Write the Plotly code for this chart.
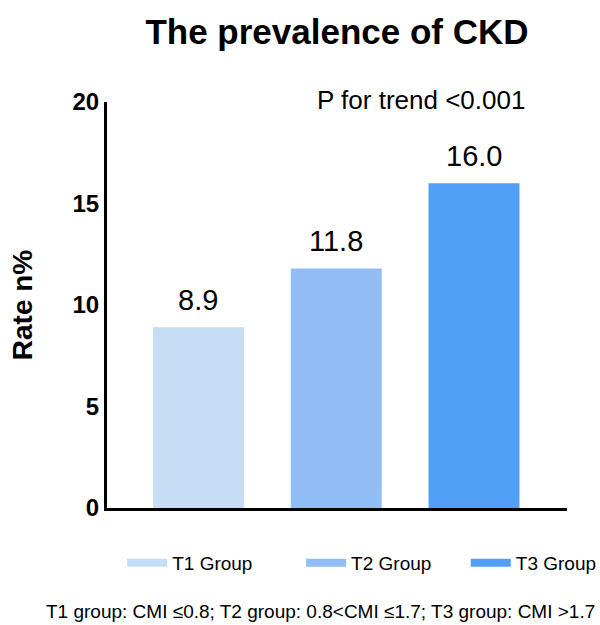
import plotly.graph_objects as go

groups = ["T1 Group", "T2 Group", "T3 Group"]
rates = [8.9, 11.8, 16.0]
colors = ["#c6ddf6", "#90bdf5", "#529ff8"]
yticks = [0, 5, 10, 15, 20]
title_text = "The prevalence of CKD"
ptrend_text = "P for trend <0.001"
footnote_text = "T1 group: CMI ≤0.8; T2 group: 0.8<CMI ≤1.7; T3 group: CMI >1.7"

FONT = "Arial, 'Liberation Sans', sans-serif"

fig = go.Figure()
xs = list(range(len(groups)))
fig.add_trace(go.Bar(
    x=xs, y=rates, marker=dict(color=colors, line=dict(width=0)),
    width=0.66, showlegend=False, hoverinfo="y",
))
legend_ids = ["legend", "legend2", "legend3"]
legend_x = [0.033, 0.422, 0.78]
for g, c, lid in zip(groups, colors, legend_ids):
    fig.add_trace(go.Scatter(
        x=[None], y=[None], mode="lines", name=g, legend=lid,
        line=dict(color=c, width=8),
    ))

for xi, v in zip(xs, rates):
    fig.add_annotation(
        x=xi, y=v, text=f"{v:.1f}", showarrow=False,
        yanchor="bottom", yshift=9,
        font=dict(family=FONT, size=29, color="black"),
    )

fig.add_annotation(
    x=0.913, y=1.005, xref="paper", yref="paper", text=ptrend_text,
    showarrow=False, xanchor="right", yanchor="middle",
    font=dict(family=FONT, size=26, color="black"),
)
fig.add_annotation(
    x=-0.136, y=-0.256, xref="paper", yref="paper", text=footnote_text,
    showarrow=False, xanchor="left", yanchor="middle",
    font=dict(family=FONT, size=19, color="black"),
)

legend_style = dict(orientation="h", xanchor="left", y=-0.135, yanchor="middle",
                    itemwidth=40, font=dict(family=FONT, size=19, color="black"),
                    bgcolor="rgba(0,0,0,0)")

fig.update_layout(
    width=600, height=625,
    margin=dict(l=107, r=33, t=102, b=117, autoexpand=False),
    paper_bgcolor="white", plot_bgcolor="white",
    title=dict(text=f"<b>{title_text}</b>", x=0.5, xref="paper", xanchor="center",
               y=1 - 32 / 625, yanchor="middle",
               font=dict(family=FONT, size=35, color="black")),
    xaxis=dict(range=[-0.664, 2.675], showticklabels=False, ticks="",
               showgrid=False, zeroline=False, showline=True,
               linecolor="black", linewidth=3, fixedrange=True),
    yaxis=dict(range=[0, 20], tickvals=yticks, ticks="", showgrid=False,
               zeroline=False, showline=True, linecolor="black", linewidth=3,
               tickfont=dict(family=FONT, size=24, color="black", weight="bold"),
               title=dict(text="<b>Rate n%</b>", standoff=32,
                          font=dict(family=FONT, size=28, color="black"))),
    legend=dict(x=legend_x[0], **legend_style),
    legend2=dict(x=legend_x[1], **legend_style),
    legend3=dict(x=legend_x[2], **legend_style),
    bargap=0.34,
    font=dict(family=FONT, color="black"),
)

fig.write_html("out.html", post_script="document.body.style.margin='0';",
               config={"displayModeBar": False})
